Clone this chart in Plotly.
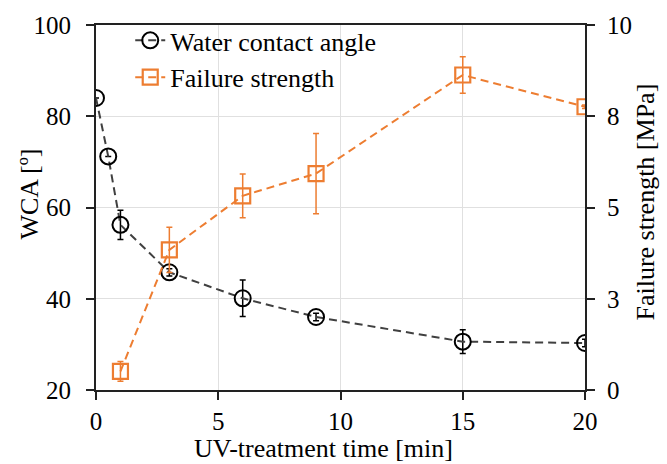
import plotly.graph_objects as go

time_wca = [0, 0.5, 1, 3, 6, 9, 15, 20]
wca = [84.0, 71.2, 56.2, 45.8, 40.1, 36.0, 30.6, 30.3]
wca_err = [0.0, 0.0, 3.2, 0.8, 4.0, 0.8, 2.6, 0.8]

time_fs = [1, 3, 6, 9, 15, 20]
fs = [0.51, 3.84, 5.32, 5.93, 8.63, 7.76]
fs_err = [0.27, 0.62, 0.6, 1.1, 0.5, 0.05]

x_ticks = [0, 5, 10, 15, 20]
y_ticks = [20, 40, 60, 80, 100]
y2_ticks = [0, 2.5, 5, 7.5, 10]
y2_labels = ["0", "3", "5", "8", "10"]

FONT = "Liberation Serif"
ORANGE = "#ED7D31"
TICK_SIZE = 25
TITLE_SIZE = 26

fig = go.Figure()
fig.add_trace(go.Scatter(
    x=time_wca, y=wca, name="Water contact angle", mode="lines+markers",
    line=dict(color="#404040", width=2, dash="8px,5px"),
    marker=dict(symbol="circle-open", size=16, color="black", line=dict(width=2, color="black")),
    error_y=dict(type="data", array=wca_err, color="black", thickness=1.5, width=3),
))
fig.add_trace(go.Scatter(
    x=time_fs, y=fs, name="Failure strength", mode="lines+markers", yaxis="y2",
    line=dict(color=ORANGE, width=2, dash="8px,5px"),
    marker=dict(symbol="square-open", size=15, color=ORANGE, line=dict(width=2.2, color=ORANGE)),
    error_y=dict(type="data", array=fs_err, color=ORANGE, thickness=1.5, width=3),
))

axis_common = dict(
    showline=True, linecolor="#222", linewidth=2, ticks="outside", ticklen=8,
    tickcolor="#222", tickwidth=1.5,
    tickfont=dict(family=FONT, size=TICK_SIZE, color="black"),
    zeroline=False,
)

fig.update_layout(
    width=667, height=464,
    margin=dict(l=96, r=82, t=20, b=74),
    paper_bgcolor="white", plot_bgcolor="white",
    font=dict(family=FONT, color="black"),
    showlegend=True,
    legend=dict(x=0.07, y=1.022, xanchor="left", yanchor="top",
                bgcolor="rgba(0,0,0,0)", font=dict(family=FONT, size=TITLE_SIZE),
                itemwidth=30, tracegroupgap=0),
    xaxis=dict(range=[0, 20], tickvals=x_ticks, showgrid=True, gridcolor="#e0e0e0",
               mirror=True, ticklabelstandoff=0, **axis_common),
    yaxis=dict(range=[20, 100], tickvals=y_ticks, showgrid=True, gridcolor="#e0e0e0",
               ticklabelstandoff=10, **axis_common),
    yaxis2=dict(range=[0, 10], tickvals=y2_ticks, ticktext=y2_labels, overlaying="y", side="right",
                showgrid=False, ticklabelstandoff=7, **axis_common),
    annotations=[
        dict(text="UV-treatment time [min]", xref="paper", yref="paper", x=0.465, y=-0.16,
             xanchor="center", yanchor="middle", showarrow=False,
             font=dict(family=FONT, size=TITLE_SIZE)),
        dict(text="WCA [º]", xref="paper", yref="paper", x=-0.135, y=0.538, textangle=-90,
             xanchor="center", yanchor="middle", showarrow=False,
             font=dict(family=FONT, size=TITLE_SIZE)),
        dict(text="Failure strength [MPa]", xref="paper", yref="paper", x=1.123, y=0.514, textangle=-90,
             xanchor="center", yanchor="middle", showarrow=False,
             font=dict(family=FONT, size=TITLE_SIZE)),
    ],
)

fig.write_html("out.html")
